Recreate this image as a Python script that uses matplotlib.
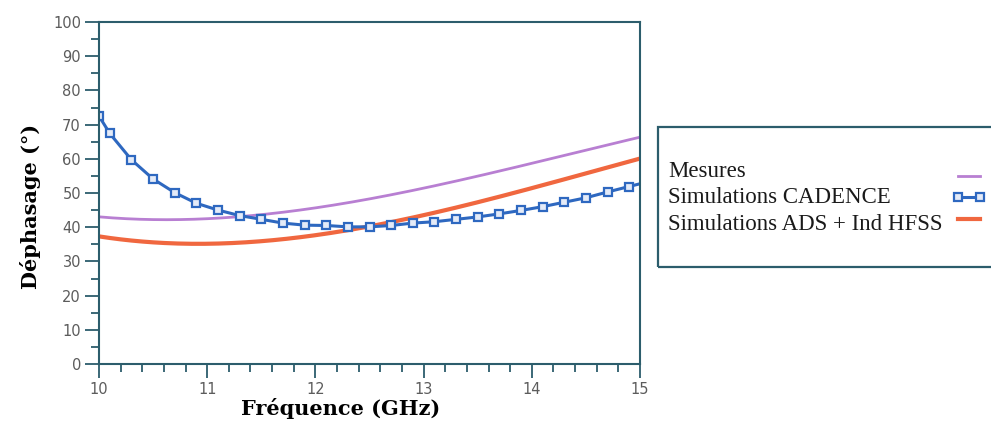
import numpy as np
import matplotlib
matplotlib.use("Agg")
import matplotlib.pyplot as plt
from matplotlib.patches import Rectangle
from matplotlib.ticker import MultipleLocator

# values
freq_smooth = [10.0, 10.5, 11.0, 11.5, 12.0, 12.5, 13.0, 13.5, 14.0, 14.5, 15.0]
mesures = [43.0, 42.3, 42.5, 43.6, 45.6, 48.2, 51.6, 55.0, 58.6, 62.4, 66.4]
ads_hfss = [37.2, 35.7, 35.3, 35.8, 37.6, 40.2, 43.5, 47.3, 51.5, 55.8, 60.0]

freq_cadence = [10.0, 10.1, 10.3, 10.5, 10.7, 10.9, 11.1, 11.3, 11.5, 11.7, 11.9,
                12.1, 12.3, 12.5, 12.7, 12.9, 13.1, 13.3, 13.5, 13.7, 13.9,
                14.1, 14.3, 14.5, 14.7, 14.9, 15.0]
cadence = [72.5, 67.4, 59.7, 54.1, 50.1, 47.0, 45.0, 43.4, 42.3, 41.2, 40.6,
           40.5, 40.1, 40.1, 40.5, 41.2, 41.6, 42.3, 43.0, 43.9, 44.9,
           46.0, 47.3, 48.6, 50.3, 51.9, 52.7]

labels = ["Mesures", "Simulations CADENCE", "Simulations ADS + Ind HFSS"]

axis_col = "#2c5d6c"
tick_col = "#5c5c5c"

fig = plt.figure(figsize=(9.91, 4.30), dpi=100)
ax = fig.add_axes([99 / 991, 1 - 364 / 430, 541 / 991, 342 / 430])

# smooth curves through the read points
fs = np.linspace(10, 15, 200)
p_mes = np.polyfit(freq_smooth, mesures, 3)
p_ads = np.polyfit(freq_smooth, ads_hfss, 3)

l1, = ax.plot(fs, np.polyval(p_mes, fs), color="#b87fd2", lw=2.0)
l3, = ax.plot(fs, np.polyval(p_ads, fs), color="#f0673f", lw=3.0)
l2, = ax.plot(freq_cadence, cadence, color="#2e68c0", lw=2.2,
              marker="s", ms=6, mfc="#e4ebf8", mec="#2e68c0", mew=1.6,
              markevery=list(range(len(freq_cadence) - 1)))

ax.set_xlim(10, 15)
ax.set_ylim(0, 100)
ax.xaxis.set_major_locator(MultipleLocator(1))
ax.xaxis.set_minor_locator(MultipleLocator(0.2))
ax.yaxis.set_major_locator(MultipleLocator(10))
ax.yaxis.set_minor_locator(MultipleLocator(5))
ax.tick_params(which="major", length=10, width=1.3, color=axis_col,
               labelcolor=tick_col, labelsize=10.5, pad=3)
ax.tick_params(which="minor", length=5.5, width=1.3, color=axis_col)
for s in ax.spines.values():
    s.set_color(axis_col)
    s.set_linewidth(1.5)

ax.set_xlabel("Fréquence (GHz)", family="DejaVu Serif", fontweight="bold",
              fontsize=15)
ax.xaxis.set_label_coords(0.447, -0.10)
ax.set_ylabel("Déphasage (°)", family="DejaVu Serif", fontweight="bold",
              fontsize=15)
ax.yaxis.set_label_coords(-0.108, 0.46)

# legend box (runs past the right edge in the original)
fig.patches.append(Rectangle((658 / 991, 1 - 267 / 430), 0.4, 140 / 430,
                             transform=fig.transFigure, fill=False,
                             edgecolor=axis_col, lw=1.6))
# handles on the right; labels written left-aligned separately
leg = fig.legend([l1, l2, l3], labels, loc="center right",
                 bbox_to_anchor=(998 / 991, 1 - 200 / 430), frameon=False,
                 markerfirst=False, prop={"family": "Liberation Serif", "size": 16},
                 handlelength=1.6, handletextpad=0.3, labelspacing=0.05,
                 borderpad=0, numpoints=2)
for t in leg.get_texts():
    t.set_alpha(0)
for lab, yb in zip(labels, [177, 203, 230]):
    fig.text(668 / 991, 1 - yb / 430, lab, family="Liberation Serif",
             fontsize=16.5, color="#1a1a1a", va="baseline", ha="left")

fig.savefig("out.png", dpi=100)
